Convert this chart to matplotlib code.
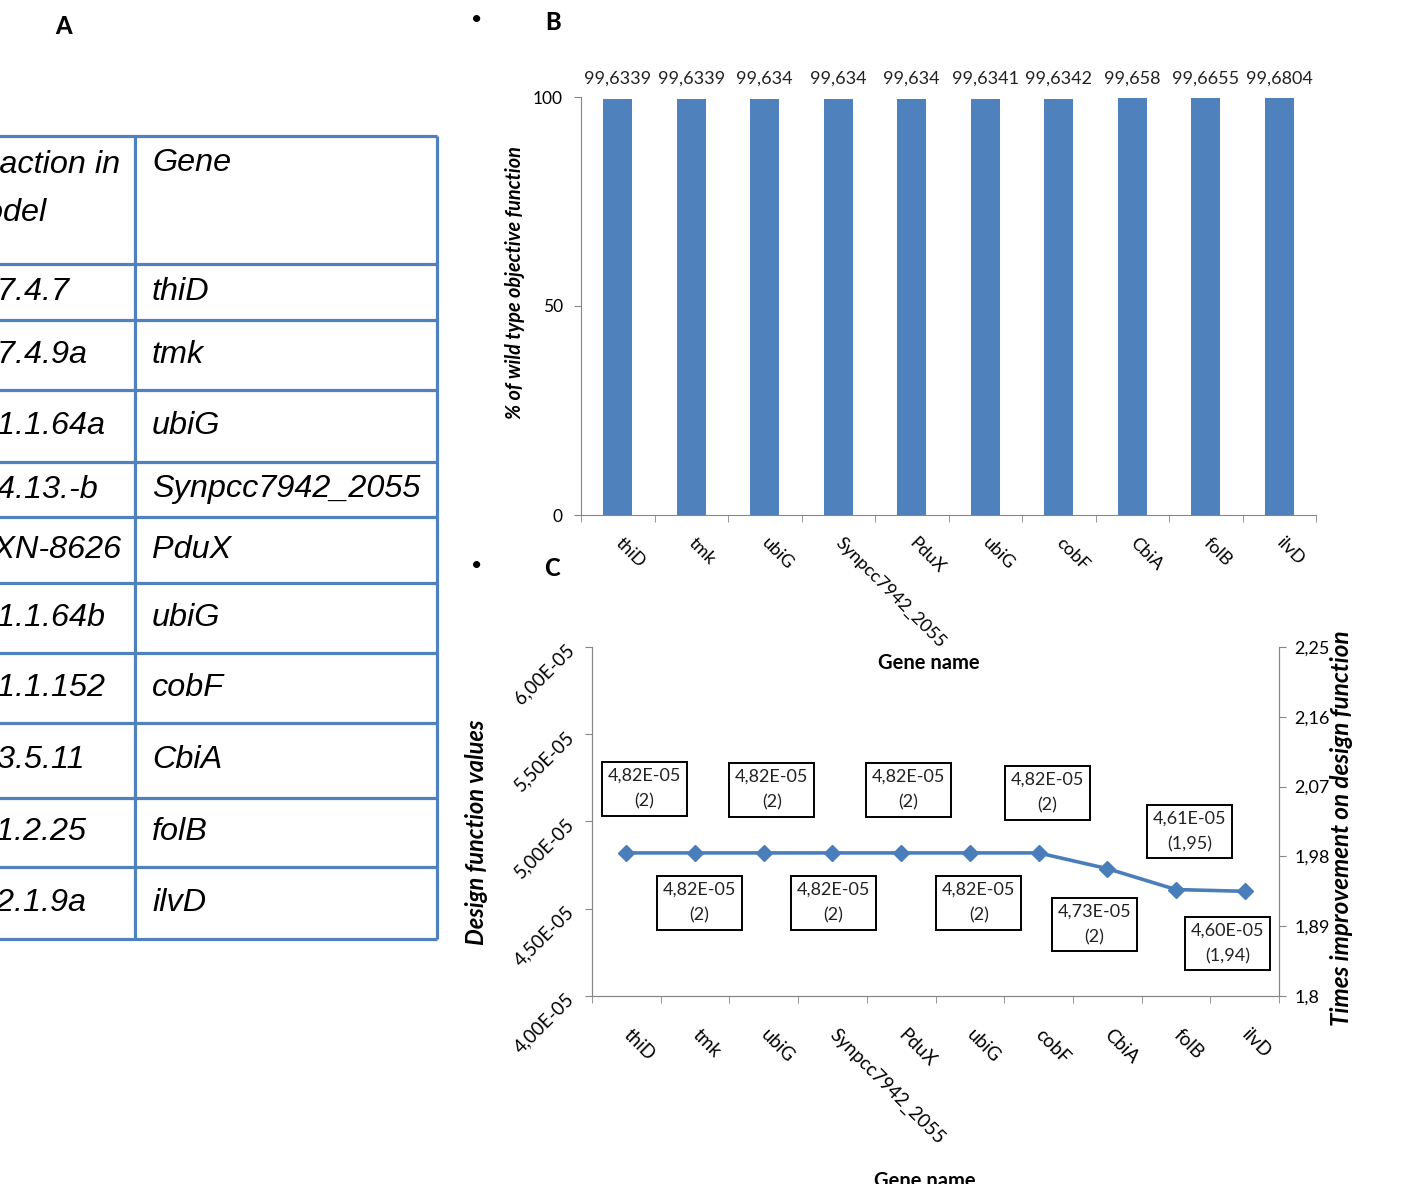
import numpy as np
import matplotlib
matplotlib.use('Agg')
import matplotlib.pyplot as plt
from matplotlib import font_manager

# data
genes = ['thiD', 'tmk', 'ubiG', 'Synpcc7942_2055', 'PduX', 'ubiG', 'cobF', 'CbiA', 'folB', 'ilvD']
reactions = ['2.7.4.7', '2.7.4.9a', '2.1.1.64a', '3.4.13.-b', 'RXN-8626',
             '2.1.1.64b', '2.1.1.152', '6.3.5.11', '4.1.2.25', '4.2.1.9a']
wt_percent = [99.6339, 99.6339, 99.634, 99.634, 99.634, 99.6341, 99.6342, 99.658, 99.6655, 99.6804]
design_values = [4.82e-5, 4.82e-5, 4.82e-5, 4.82e-5, 4.82e-5, 4.82e-5, 4.82e-5, 4.73e-5, 4.61e-5, 4.60e-5]
improvement = [2, 2, 2, 2, 2, 2, 2, 2, 1.95, 1.94]

b_yticks = [0, 50, 100]
c_left_ticks = [4.0e-5, 4.5e-5, 5.0e-5, 5.5e-5, 6.0e-5]
c_right_ticks = [1.8, 1.89, 1.98, 2.07, 2.16, 2.25]

# label box offsets (pixels) from each point
label_offsets = [(18, 64), (4, -50), (8, 63), (1, -50), (7, 63),
                 (9, -50), (9, 60), (-13, -56), (14, 58), (-17, -52)]

# table geometry (pixels)
row_lines = [136, 264, 320, 390, 462, 517, 583, 653, 723, 798, 867, 939]
col_lines = [135, 437]

blue = '#4F81BD'
line_blue = '#4A7EBB'
gray = '#868686'

plt.rcParams['font.family'] = ['Lato', 'DejaVu Sans']

names = {f.name for f in font_manager.fontManager.ttflist}
if 'Liberation Sans Narrow' in names:
    table_font = ['Liberation Sans Narrow', 'Liberation Sans']
    table_size = 27.5
    left_x = -27
else:
    table_font = ['Liberation Sans']
    table_size = 23.3
    left_x = -30


def comma(v):
    return ('%g' % v).replace('.', ',')


W, H = 1418, 1184
fig = plt.figure(figsize=(W / 100, H / 100), dpi=100)

#background axes for table and panel letters
bg = fig.add_axes([0, 0, 1, 1])
bg.set_xlim(0, W)
bg.set_ylim(H, 0)
bg.axis('off')

for y in row_lines:
    bg.plot([-5, col_lines[1]], [y, y], color=blue, lw=2.3, solid_capstyle='butt')
for xc in col_lines:
    bg.plot([xc, xc], [row_lines[0], row_lines[-1]], color=blue, lw=2.3, solid_capstyle='butt')

bg.text(left_x - 12, 189, 'Reaction in\nmodel', fontsize=table_size, family=table_font,
        style='italic', ha='left', va='center', linespacing=1.75)
bg.text(152, 163, 'Gene', fontsize=table_size, family=table_font, style='italic',
        ha='left', va='center')
for i in range(len(genes)):
    yc = (row_lines[i + 1] + row_lines[i + 2]) / 2
    bg.text(left_x, yc, reactions[i], fontsize=table_size, family=table_font,
            style='italic', ha='left', va='center')
    bg.text(152, yc, genes[i], fontsize=table_size, family=table_font,
            style='italic', ha='left', va='center')

bg.text(64, 27, 'A', fontsize=17, fontweight='black', ha='center', va='center')
bg.text(477, 20, '•', fontsize=14, ha='center', va='center')
bg.text(553, 23, 'B', fontsize=17, fontweight='black', ha='center', va='center')
bg.text(477, 566, '•', fontsize=14, ha='center', va='center')
bg.text(552, 568, 'C', fontsize=17, fontweight='black', ha='center', va='center')

x = np.arange(len(genes))

#panel C first so panel B labels stay on top
axC = fig.add_axes([592 / W, 1 - 996 / H, (1279 - 592) / W, (996 - 647) / H])
axC.patch.set_alpha(0)
axC.plot(x, design_values, color=line_blue, lw=2.6, marker='D', ms=8.5)
axC.set_xlim(-0.5, len(genes) - 0.5)
axC.set_ylim(c_left_ticks[0], c_left_ticks[-1])
axC.set_yticks(c_left_ticks)
axC.set_yticklabels([('%.2E' % t).replace('.', ',') for t in c_left_ticks],
                    rotation=45, ha='right', va='center', rotation_mode='anchor')
axC.set_xticks(x)
axC.set_xticklabels(genes, rotation=-45, ha='left', va='center', rotation_mode='anchor', fontsize=13.5)
axC.set_xticks(np.arange(-0.5, len(genes), 1), minor=True)
axC.tick_params(axis='x', which='major', length=0, pad=26)
axC.tick_params(axis='x', which='minor', length=5, color=gray, direction='out')
axC.tick_params(axis='y', length=5, color=gray, pad=10, labelsize=13.5)
axC.spines['top'].set_visible(False)
for s in ['left', 'bottom', 'right']:
    axC.spines[s].set_color(gray)

for i in range(len(genes)):
    txt = ('%.2E' % design_values[i]).replace('.', ',') + '\n(' + comma(improvement[i]) + ')'
    axC.annotate(txt, (x[i], design_values[i]), xytext=label_offsets[i],
                 textcoords='offset pixels', ha='center', va='center',
                 multialignment='center', fontsize=13, linespacing=1.75, color='#222222',
                 bbox=dict(boxstyle='square,pad=0.32', fc='white', ec='black', lw=1.4))

axC.set_ylabel('Design function values', fontsize=17, fontweight='bold', style='italic', va='center')
axC.yaxis.set_label_coords(-0.1674, 0.47)
axC.set_xlabel('Gene name', fontsize=14.5, fontweight='bold', va='center')
axC.xaxis.set_label_coords(0.4847, -0.531)

axC2 = axC.twinx()
axC2.patch.set_alpha(0)
axC2.set_ylim(c_right_ticks[0], c_right_ticks[-1])
axC2.set_yticks(c_right_ticks)
axC2.set_yticklabels([comma(t) for t in c_right_ticks])
axC2.tick_params(axis='y', length=5, color=gray, pad=6, labelsize=13)
axC2.spines['top'].set_visible(False)
for s in ['left', 'bottom', 'right']:
    axC2.spines[s].set_color(gray)
axC2.set_ylabel('Times improvement on design function', fontsize=17.5, fontweight='bold',
                style='italic', va='center')
axC2.yaxis.set_label_coords(1.0917, 0.481)

#panel B
axB = fig.add_axes([581 / W, 1 - 515 / H, (1316 - 581) / W, (515 - 97) / H])
axB.patch.set_alpha(0)
axB.bar(x, wt_percent, width=0.4, color=blue)
for xi, v in zip(x, wt_percent):
    axB.annotate(comma(v), (xi, v), xytext=(0, 12), textcoords='offset pixels',
                 ha='center', va='bottom', fontsize=13, color='#222222')
axB.set_xlim(-0.5, len(genes) - 0.5)
axB.set_ylim(0, 100)
axB.set_yticks(b_yticks)
axB.set_xticks(x)
axB.set_xticklabels(genes, rotation=-45, ha='left', va='center', rotation_mode='anchor', fontsize=13)
axB.set_xticks(np.arange(-0.5, len(genes), 1), minor=True)
axB.tick_params(axis='x', which='major', length=0, pad=18)
axB.tick_params(axis='x', which='minor', length=5, color=gray, direction='out')
axB.tick_params(axis='y', length=5, color=gray, pad=8, labelsize=12.5)
for s in ['top', 'right']:
    axB.spines[s].set_visible(False)
for s in ['left', 'bottom']:
    axB.spines[s].set_color(gray)
axB.set_ylabel('% of wild type objective function', fontsize=14.3, fontweight='bold',
               style='italic', va='center')
axB.yaxis.set_label_coords(-0.0898, 0.555)
axB.set_xlabel('Gene name', fontsize=14.5, fontweight='bold', va='center')
axB.xaxis.set_label_coords(0.4735, -0.354)

fig.savefig('out.png', dpi=100)
